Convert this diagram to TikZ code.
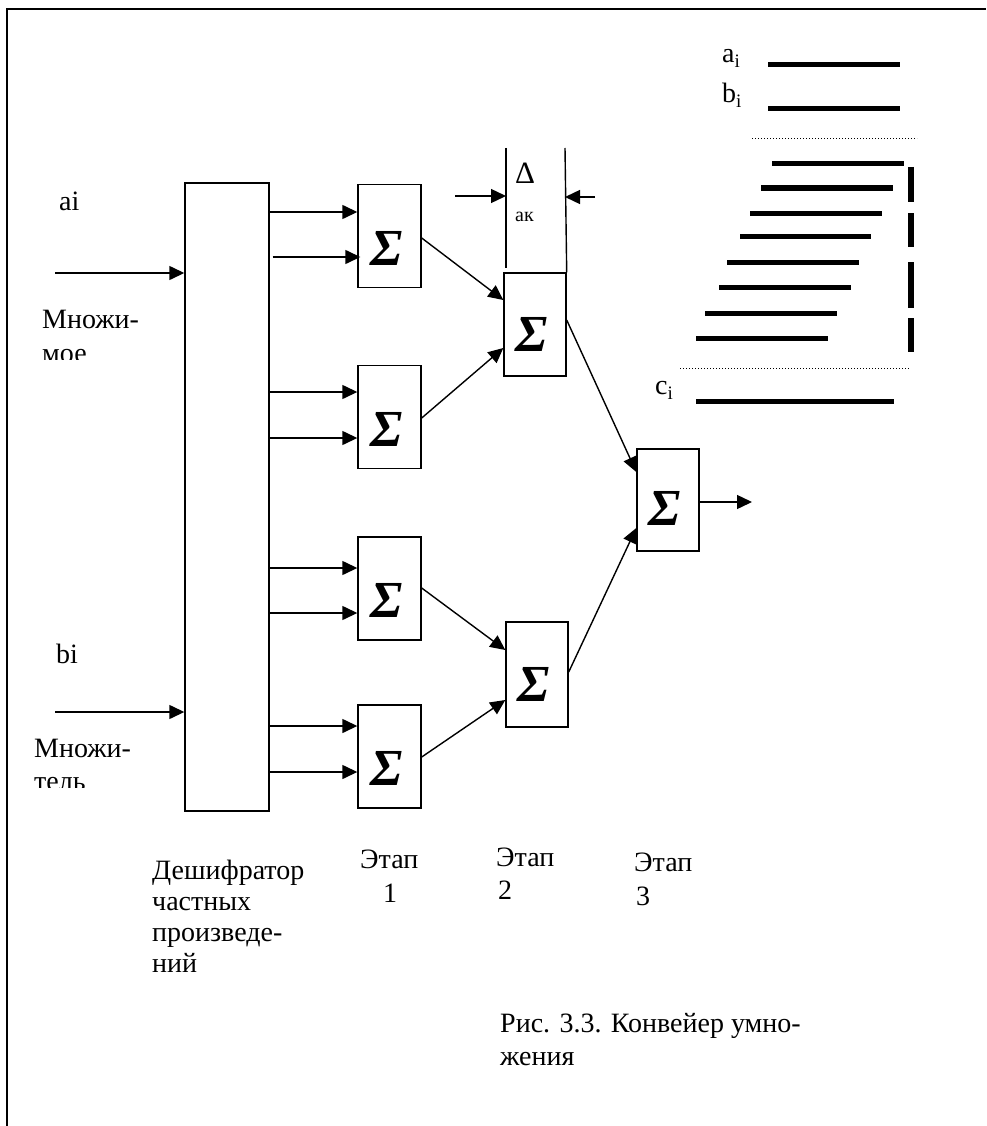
\documentclass[tikz,border=0pt]{standalone}
\usepackage{fontspec}
\setmainfont{Liberation Serif}
\newfontfamily\tnr{Liberation Serif}
\usetikzlibrary{arrows.meta,calc}
\newcommand{\subi}{\raisebox{-5pt}{\fontsize{19}{19}\selectfont i}}
\begin{document}
\begin{tikzpicture}[x=1pt,y=-1pt,
 box/.style={draw,line width=1.4pt,inner sep=0pt,minimum width=63pt,minimum height=103pt},
 arr/.style={line width=1.4pt,-{Triangle[length=15pt,width=14pt]}},
 ln/.style={line width=1.4pt},
 lbl/.style={anchor=base west,inner sep=0pt,font=\tnr\fontsize{28}{32}\selectfont},
 small/.style={anchor=base west,inner sep=0pt,font=\tnr\fontsize{20}{22}\selectfont},
 sig/.style={inner sep=0pt,font=\tnr\fontsize{52}{52}\selectfont\bfseries\itshape},
 bar/.style={line width=5pt},
 dots/.style={line width=1pt,dotted},
]
\useasboundingbox (0,0) rectangle (986,1126);
% frame (top and left only)
\draw[line width=2.4pt] (7,1126) -- (7,9) -- (986,9);

% decoder
\node[box,minimum width=84pt,minimum height=628pt] (dec) at (227,497) {};
% stage 1
\node[box] (s1a) at (389.5,236) {};
\node[box] (s1b) at (389.5,417) {};
\node[box] (s1c) at (389.5,588.5) {};
\node[box] (s1d) at (389.5,756.5) {};
% stage 2
\node[box,minimum width=62pt] (s2a) at (535,324.5) {};
\node[box,minimum width=62pt,minimum height=105pt] (s2b) at (537,674.5) {};
% stage 3
\node[box,minimum width=62pt,minimum height=102pt] (s3) at (668,500) {};

% sigma signs
\node[sig] (g1a) at ([xshift=-3pt,yshift=-12pt]s1a.center) {Σ};
\node[sig] (g1b) at ([xshift=-3pt,yshift=-12pt]s1b.center) {Σ};
\node[sig] (g1c) at ([xshift=-3pt,yshift=-12pt]s1c.center) {Σ};
\node[sig] (g1d) at ([xshift=-3pt,yshift=-12pt]s1d.center) {Σ};
\node[sig] (g2a) at ([xshift=-3pt,yshift=-10pt]s2a.center) {Σ};
\node[sig] (g2b) at ([xshift=-3pt,yshift=-10pt]s2b.center) {Σ};
\node[sig] (g3) at ([xshift=-3pt,yshift=-8pt]s3.center) {Σ};

% inputs to decoder
\coordinate (ain) at (55,273);
\coordinate (bin) at (55,712);
\draw[arr] (ain) -- (dec.west |- ain);
\draw[arr] (bin) -- (dec.west |- bin);

% decoder -> stage 1
\draw[arr] (dec.east |- 0,212) -- (s1a.west |- 0,212);
\draw[arr] ($(dec.east |- 0,257)+(3,0)$) -- ($(s1a.west |- 0,257)+(3,0)$);
\draw[arr] (dec.east |- 0,392) -- (s1b.west |- 0,392);
\draw[arr] (dec.east |- 0,438) -- (s1b.west |- 0,438);
\draw[arr] (dec.east |- 0,568) -- (s1c.west |- 0,568);
\draw[arr] (dec.east |- 0,613) -- (s1c.west |- 0,613);
\draw[arr] (dec.east |- 0,726) -- (s1d.west |- 0,726);
\draw[arr] (dec.east |- 0,772) -- (s1d.west |- 0,772);

% stage 1 -> stage 2
\draw[arr] (s1a.east |- 0,238) -- (s2a.west |- 0,300);
\draw[arr] (s1b.east |- 0,418) -- (s2a.west |- 0,348);
\draw[arr] (s1c.east |- 0,588) -- (s2b.west |- 0,650);
\draw[arr] (s1d.east |- 0,757) -- (s2b.west |- 0,700);
% stage 2 -> stage 3
\draw[arr] (s2a.east |- 0,320) -- (s3.west |- 0,472);
\draw[arr] (s2b.east |- 0,672) -- (s3.west |- 0,528);
% output
\coordinate (out) at (752,502);
\draw[arr] (s3.east |- out) -- (out);

% delta marker
\coordinate (dl) at (506,148);
\coordinate (dr) at (565,148);
\draw[ln] (dl) -- (506,268);
\draw[ln] (dr) -- (s2a.north east);
\coordinate (dla) at (455,196);
\coordinate (dra) at (595,197);
\draw[arr] (dla) -- (dl |- dla);
\draw[arr] (dra) -- (dr |- dra);
\node[anchor=base west,inner sep=0pt,font=\tnr\fontsize{31}{31}\selectfont] (delta) at (515,183) {Δ};
\node[small] (ak) at (515,221) {ак};

% left labels
\node[lbl] (ai) at (59,210) {ai};
\node[lbl] (mn1) at (42,328) {Множи-};
\begin{scope}
\clip (0,0) rectangle (180,359);
\node[lbl] (mn1b) at (42,362) {мое};
\end{scope}
\node[lbl] (bi) at (56,663) {bi};
\node[lbl] (mn2) at (34,757) {Множи-};
\begin{scope}
\clip (0,0) rectangle (180,787);
\node[lbl] (mn2b) at (34,790) {тель};
\end{scope}

% bottom labels
\node[lbl] (d1) at (152,879) {Дешифратор};
\node[lbl] (d2) at (152,910) {частных};
\node[lbl] (d3) at (152,941) {произведе-};
\node[lbl] (d4) at (152,972) {ний};
\node[lbl] (e1) at (360,868) {Этап};
\node[lbl] (e1n) at (383,902) {1};
\node[lbl] (e2) at (496,866) {Этап};
\node[lbl] (e2n) at (498,899) {2};
\node[lbl] (e3) at (634,871) {Этап};
\node[lbl] (e3n) at (636,905) {3};
\node[lbl] (cap1) at (500,1032) {Рис. 3.3. Конвейер умно-};
\node[lbl] (cap2) at (500,1065) {жения};

% timing diagram
\node[lbl] (ta) at (722,63) {a\subi};
\node[lbl] (tb) at (722,103) {b\subi};
\node[lbl] (tc) at (655,394) {c\subi};
\draw[bar] (768,65) -- (900,65);
\draw[bar] (768,109) -- (900,109);
\draw[dots] (752,139) -- (917,139);
\draw[bar] (772,164) -- (904,164);
\draw[bar] (761,188) -- (893,188);
\draw[bar] (750,213) -- (882,213);
\draw[bar] (740,236) -- (871,236);
\draw[bar] (727,262) -- (859,262);
\draw[bar] (719,287) -- (851,287);
\draw[bar] (705,313) -- (837,313);
\draw[bar] (696,338) -- (828,338);
\draw[line width=6pt] (911,167) -- (911,202);
\draw[line width=6pt] (911,213) -- (911,247);
\draw[line width=6pt] (911,262) -- (911,308);
\draw[line width=6pt] (911,318) -- (911,352);
\draw[dots] (680,368) -- (910,368);
\draw[bar] (696,401) -- (894,401);
\end{tikzpicture}
\end{document}
